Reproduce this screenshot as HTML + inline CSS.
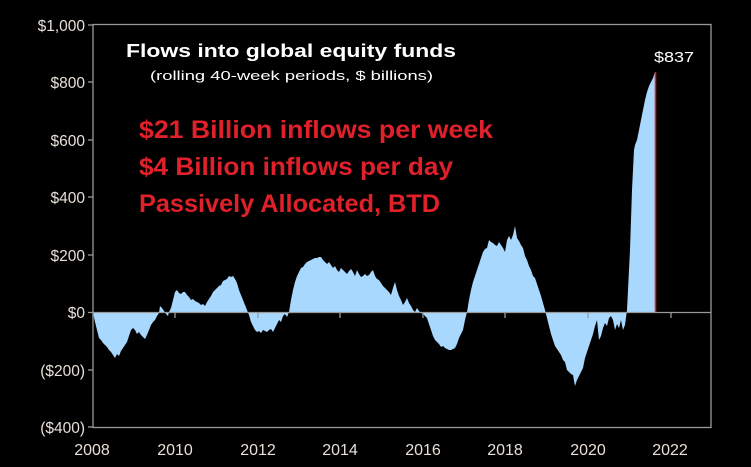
<!DOCTYPE html>
<html><head><meta charset="utf-8"><style>
html,body{margin:0;padding:0;background:#000;}
svg{display:block;}
text{font-family:"Liberation Sans",sans-serif;}
</style></head><body>
<svg width="751" height="467" viewBox="0 0 751 467" xmlns="http://www.w3.org/2000/svg">
<rect width="751" height="467" fill="#000"/>
<polygon fill="#a9d8ff" points="93,312.5 95,322 97,330 99,338 101,340 103,343 105,345 107,347 109,350 111,352 113,355 115,358 117,354 119,356 121,351 123,348 125,345 127,342 129,336 131,330 133,328 135,330 137,334 139,332 141,335 143,337 145,339 147,335 149,330 151,325 153,322 155,320 157,316 159,313 160,306 162,308 164,311 166,314 168,316 169,312 171,308 173,300 175,292 177,290 179,293 181,294 183,292 185,292 187,295 189,297 191,300 193,299 195,301 197,302 199,303 201,305 203,304 205,306 207,302 209,299 211,296 213,292 215,290 217,288 219,286 221,285 223,281 225,280 227,279 229,276 231,277 233,276 235,279 237,283 239,290 241,295 243,300 245,305 247,310 249,315 251,322 253,326 255,330 257,332 259,331 261,333 263,330 265,331 267,332 269,330 271,329 273,332 275,328 277,324 279,320 281,322 283,316 285,314 287,317 289,312 291,300 293,290 295,282 297,276 299,272 301,268 303,267 305,264 307,262 309,261 311,260 313,259 315,258 317,258 319,257 321,257 323,260 325,262 327,264 329,262 331,265 333,268 335,266 337,270 339,272 341,268 343,270 345,272 347,274 349,271 351,269 353,272 355,276 357,270 359,274 361,277 363,276 365,274 367,276 369,275 371,272 373,270 375,276 377,279 379,280 381,283 383,286 385,288 387,290 389,292 391,295 393,288 395,282 397,290 399,296 401,300 403,305 405,302 407,298 409,303 411,306 413,310 415,312 417,308 419,311 421,313 423,314 425,316 427,318 429,324 431,330 433,336 435,340 437,342 439,344 441,347 443,346 445,348 447,349 449,350 451,350 453,349 455,348 457,344 459,338 461,334 463,330 465,320 467,312 469,300 471,290 473,282 475,276 477,270 479,264 481,258 483,252 485,249 487,248 489,240 491,242 493,243 495,245 497,246 499,242 501,245 503,248 505,252 507,240 509,236 511,240 513,235 515,226 517,238 519,241 521,245 523,248 525,256 527,260 529,266 531,270 533,276 535,278 537,284 539,290 541,296 543,303 545,310 547,318 549,326 551,334 553,340 555,346 557,349 559,352 561,355 563,360 565,362 567,370 569,372 571,374 573,375 575,386 577,380 579,376 581,372 583,368 585,358 587,352 589,346 591,340 593,334 595,326 597,320 599,340 601,336 603,328 605,323 607,326 609,318 611,316 613,320 615,330 617,324 619,328 621,320 623,330 625,325 627,310 628,290 629,270 630,250 631,220 632,190 633,170 634,150 635,145 637,140 639,130 641,120 643,110 645,100 647,92 649,86 651,82 653,78 655,72 655,312.5"/>
<line x1="655.5" y1="72" x2="655.5" y2="312.5" stroke="#e0202a" stroke-width="1.6"/>
<line x1="93" y1="312.5" x2="711" y2="312.5" stroke="#999" stroke-width="1.3"/>
<rect x="93" y="24.5" width="618" height="403" fill="none" stroke="#999" stroke-width="1.3"/>
<g stroke="#999" stroke-width="1.3">
<line x1="88" y1="25" x2="93" y2="25"/><line x1="88" y1="82" x2="93" y2="82"/><line x1="88" y1="140" x2="93" y2="140"/><line x1="88" y1="197" x2="93" y2="197"/><line x1="88" y1="255" x2="93" y2="255"/><line x1="88" y1="312.5" x2="93" y2="312.5"/><line x1="88" y1="370" x2="93" y2="370"/><line x1="88" y1="427" x2="93" y2="427"/>
<line x1="175" y1="312.5" x2="175" y2="318"/><line x1="258" y1="312.5" x2="258" y2="318"/><line x1="340" y1="312.5" x2="340" y2="318"/><line x1="423" y1="312.5" x2="423" y2="318"/><line x1="505" y1="312.5" x2="505" y2="318"/><line x1="588" y1="312.5" x2="588" y2="318"/><line x1="671" y1="312.5" x2="671" y2="318"/>
</g>
<g fill="#e8e0d8" font-size="15.5" text-anchor="end">
<text x="85" y="31">$1,000</text><text x="85" y="88">$800</text><text x="85" y="146">$600</text><text x="85" y="203">$400</text><text x="85" y="261">$200</text><text x="85" y="318">$0</text><text x="85" y="376">($200)</text><text x="85" y="433">($400)</text>
</g>
<g fill="#e8e0d8" font-size="16" text-anchor="middle">
<text x="92" y="455">2008</text><text x="175" y="455">2010</text><text x="258" y="455">2012</text><text x="340" y="455">2014</text><text x="423" y="455">2016</text><text x="505" y="455">2018</text><text x="588" y="455">2020</text><text x="670" y="455">2022</text>
</g>
<text x="126" y="57" fill="#fff" font-size="18" font-weight="bold" textLength="330" lengthAdjust="spacingAndGlyphs">Flows into global equity funds</text>
<text x="150" y="80" fill="#fff" font-size="13" textLength="283" lengthAdjust="spacingAndGlyphs">(rolling  40-week periods, $ billions)</text>
<text x="654" y="62" fill="#fff" font-size="15" textLength="40" lengthAdjust="spacingAndGlyphs">$837</text>
<g fill="#e0202a" font-size="25" font-weight="bold">
<text x="139" y="138" textLength="354" lengthAdjust="spacingAndGlyphs">$21 Billion inflows per week</text>
<text x="139" y="175" textLength="314" lengthAdjust="spacingAndGlyphs">$4 Billion inflows per day</text>
<text x="139" y="212" textLength="301" lengthAdjust="spacingAndGlyphs">Passively Allocated, BTD</text>
</g>
</svg>
</body></html>
